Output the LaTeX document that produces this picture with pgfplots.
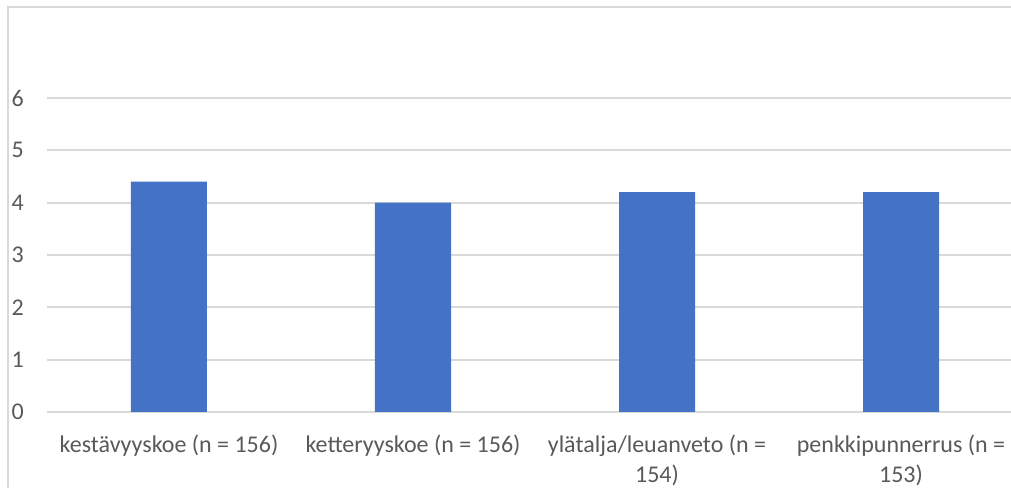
\documentclass[border=0pt]{standalone}
\usepackage{pgfplots}
\pgfplotsset{compat=1.18}
\usepackage{fontspec}
\setmainfont{Carlito}
\definecolor{barblue}{HTML}{4472C4}
\definecolor{gridgray}{HTML}{D9D9D9}
\definecolor{txtgray}{HTML}{595959}
\begin{document}
\begin{tikzpicture}
\begin{axis}[
  scale only axis, width=732pt, height=235.5pt,
  xmin=-0.5, xmax=3.5, ymin=0, ymax=6,
  ybar, bar width=57pt,
  axis line style={draw=none},
  major tick length=0pt,
  ytick={0,1,2,3,4,5,6},
  ymajorgrids, grid style={gridgray, line width=1.3pt},
  xtick=data,
  xticklabels={{kestävyyskoe (n = 156)},{ketteryyskoe (n = 156)},{ylätalja/leuanveto (n =\\154)},{penkkipunnerrus (n =\\153)}},
  xticklabel style={align=center, anchor=north, inner sep=0pt, yshift=-17.25pt},
  yticklabel style={anchor=east, inner sep=0pt, xshift=-17.25pt},
  ticklabel style={font=\fontsize{18}{21.9}\selectfont, text=txtgray},
  /pgf/number format/assume math mode=true,
  clip=false,
]
\addplot[fill=barblue, draw=none] coordinates {(0,4.4) (1,4.0) (2,4.2) (3,4.2)};
\end{axis}
\draw[gridgray, line width=1.1pt] (-29.25pt,-60pt) -- (-29.25pt,303.75pt) -- (730pt,303.75pt);
\pgfresetboundingbox
\useasboundingbox (-35.25pt,-57pt) rectangle (723pt,309pt);
\end{tikzpicture}
\end{document}
